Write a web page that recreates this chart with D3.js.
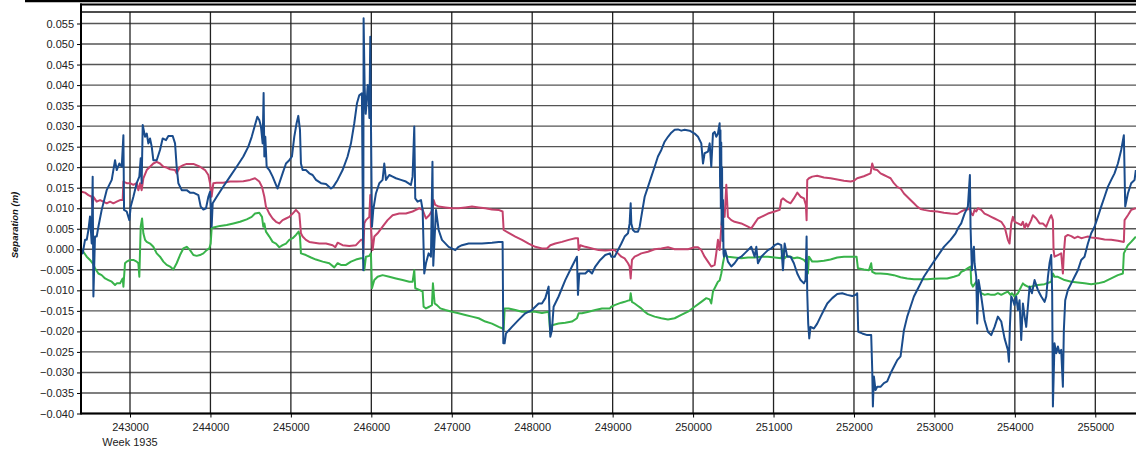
<!DOCTYPE html>
<html><head><meta charset="utf-8">
<script src="https://cdn.jsdelivr.net/npm/d3@7"></script>
<style>html,body{margin:0;padding:0;background:#fff;overflow:hidden}svg{display:block}</style>
</head><body>
<script>
const yTicks = [0.055,0.050,0.045,0.040,0.035,0.030,0.025,0.020,0.015,0.010,0.005,0.000,-0.005,-0.010,-0.015,-0.020,-0.025,-0.030,-0.035,-0.040];
const xTicks = [243000,244000,245000,246000,247000,248000,249000,250000,251000,252000,253000,254000,255000];
const xSubLabel = "Week 1935";
const yTitle = "Separation (m)";

const blueData = [
[242400,-0.0002],[242412,-0.0010],[242441,0.0023],[242462,0.0023],[242483,0.0047],[242503,0.0080],[242524,0.0014],[242536,0.0177],[242545,-0.0115],[242565,0.0031],[242586,0.0031],[242607,0.0055],[242648,0.0096],[242710,0.0144],[242773,0.0169],[242814,0.0217],[242835,0.0193],[242868,0.0209],[242897,0.0201],[242918,0.0278],[242926,0.0096],[242959,0.0092],[242992,0.0071],[243009,0.0104],[243042,0.0128],[243083,0.0161],[243116,0.0177],[243133,0.0222],[243145,0.0161],[243158,0.0303],[243187,0.0274],[243208,0.0282],[243228,0.0258],[243249,0.0270],[243270,0.0250],[243290,0.0217],[243332,0.0217],[243373,0.0242],[243406,0.0270],[243448,0.0266],[243477,0.0276],[243531,0.0276],[243560,0.0258],[243580,0.0201],[243601,0.0161],[243643,0.0144],[243705,0.0144],[243746,0.0138],[243788,0.0138],[243850,0.0132],[243879,0.0104],[243912,0.0097],[243945,0.0100],[243974,0.0128],[243995,0.0140],[244007,0.0096],[244015,0.0055],[244028,0.0112],[244078,0.0128],[244160,0.0153],[244243,0.0177],[244326,0.0201],[244409,0.0226],[244471,0.0250],[244513,0.0274],[244554,0.0303],[244583,0.0323],
[244607,0.0315],[244628,0.0299],[244649,0.0258],[244661,0.0381],[244670,0.0226],[244682,0.0274],[244699,0.0201],[244732,0.0193],[244773,0.0177],[244815,0.0157],[244835,0.0148],[244856,0.0161],[244897,0.0185],[244939,0.0209],[244980,0.0217],[245013,0.0226],[245042,0.0274],[245071,0.0307],[245092,0.0325],[245113,0.0291],[245125,0.0209],[245146,0.0193],[245187,0.0193],[245229,0.0185],[245270,0.0181],[245312,0.0169],[245374,0.0161],[245436,0.0159],[245498,0.0148],[245527,0.0152],[245581,0.0169],[245643,0.0193],[245705,0.0226],[245747,0.0258],[245788,0.0307],[245821,0.0355],[245850,0.0375],[245883,0.0380],[245900,-0.0051],[245904,0.0563],[245917,0.0396],[245930,0.0330],[245941,0.0355],[245955,0.0400],[245966,0.0380],[245976,0.0320],[245987,0.0518],[245995,0.0315],[246008,0.0055],[246024,0.0096],[246057,0.0136],[246099,0.0161],[246140,0.0169],[246161,0.0209],[246182,0.0169],[246223,0.0181],[246265,0.0177],[246306,0.0173],[246368,0.0169],[246430,0.0165],[246492,0.0157],[246513,0.0177],[246534,0.0299],[246546,0.0124],[246575,0.0116],[246617,0.0120],[246638,0.0096],[246658,-0.0059],[246679,-0.0034],[246712,-0.0010],[246741,-0.0018],[246760,0.0213],[246770,-0.0040],
[246804,0.0096],[246837,0.0047],[246878,0.0023],[246961,0.0006],[247044,-0.0002],[247085,0.0006],[247127,0.0010],[247210,0.0014],[247375,0.0014],[247500,0.0016],[247583,0.0018],[247632,0.0018],[247641,-0.0229],[247657,-0.0229],[247674,-0.0205],[247748,-0.0189],[247831,-0.0172],[247914,-0.0156],[247997,-0.0148],[248080,-0.0132],[248121,-0.0132],[248163,-0.0119],[248204,-0.0091],[248225,-0.0213],[248245,-0.0197],[248266,-0.0140],[248328,-0.0115],[248411,-0.0075],[248494,-0.0042],[248556,-0.0018],[248569,-0.0111],[248585,-0.0059],[248618,-0.0059],[248660,-0.0059],[248701,-0.0051],[248743,-0.0059],[248784,-0.0042],[248846,-0.0026],[248908,-0.0014],[248966,-0.0010],
[248983,-0.0018],[249025,-0.0018],[249066,-0.0002],[249108,0.0014],[249149,0.0031],[249191,0.0039],[249211,0.0063],[249224,0.0112],[249232,0.0063],[249253,0.0047],[249273,0.0043],[249315,0.0043],[249336,0.0055],[249356,0.0079],[249398,0.0128],[249439,0.0152],[249481,0.0177],[249522,0.0201],[249563,0.0226],[249605,0.0242],[249646,0.0262],[249688,0.0274],[249729,0.0284],[249771,0.0291],[249812,0.0292],[249853,0.0289],[249895,0.0291],[249957,0.0289],[250019,0.0282],[250061,0.0274],[250102,0.0258],[250123,0.0209],[250143,0.0234],[250185,0.0238],[250206,0.0258],[250226,0.0201],[250247,0.0282],[250268,0.0286],[250288,0.0274],[250309,0.0282],[250330,0.0307],[250336,0.0150],[250340,0.0290],[250345,0.0100],[250350,0.0260],[250355,0.0060],[250360,0.0200],[250366,0.0020],[250372,0.0120],[250378,-0.0010],[250384,-0.0018],[250400,-0.0002],[250433,-0.0030],[250475,-0.0042],[250516,-0.0034],[250558,-0.0022],[250599,-0.0018],[250641,-0.0010],[250682,-0.0002],[250723,0.0006],[250765,-0.0018],[250786,0.0006],[250806,-0.0034],[250848,-0.0018],[250889,-0.0010],[250931,-0.0002],[250972,0.0002],[251014,0.0010],[251055,0.0014],[251096,0.0010],[251117,-0.0051],[251138,0.0014],
[251170,-0.0018],[251212,-0.0018],[251253,-0.0034],[251295,-0.0059],[251336,-0.0075],[251378,-0.0083],[251398,-0.0075],[251411,0.0031],[251419,-0.0107],[251431,-0.0181],[251444,-0.0217],[251460,-0.0189],[251502,-0.0193],[251543,-0.0181],[251585,-0.0164],[251626,-0.0148],[251668,-0.0132],[251730,-0.0119],[251792,-0.0109],[251854,-0.0107],[251916,-0.0111],[251978,-0.0114],[252020,-0.0111],[252040,-0.0107],[252053,-0.0201],[252103,-0.0205],[252165,-0.0209],[252214,-0.0209],[252227,-0.0294],[252235,-0.0383],[252248,-0.0310],[252268,-0.0343],[252289,-0.0335],[252330,-0.0335],[252372,-0.0326],[252413,-0.0322],[252455,-0.0302],[252496,-0.0286],[252538,-0.0270],[252579,-0.0261],[252600,-0.0229],[252621,-0.0197],[252662,-0.0164],[252703,-0.0140],[252745,-0.0115],[252786,-0.0099],[252828,-0.0083],[252869,-0.0067],[252952,-0.0042],[253035,-0.0018],[253118,0.0006],[253201,0.0023],[253263,0.0039],[253304,0.0055],
[253333,0.0063],[253375,0.0087],[253416,0.0104],[253441,0.0181],[253449,0.0055],[253466,-0.0051],[253478,-0.0010],[253491,0.0006],[253499,-0.0034],[253520,-0.0067],[253532,-0.0181],[253549,-0.0075],[253582,-0.0115],[253623,-0.0172],[253665,-0.0201],[253706,-0.0209],[253748,-0.0189],[253789,-0.0164],[253831,-0.0176],[253872,-0.0217],[253913,-0.0245],[253926,-0.0274],[253938,-0.0189],[253955,-0.0115],[253976,-0.0124],[253996,-0.0136],[254017,-0.0115],[254038,-0.0148],[254058,-0.0124],[254079,-0.0221],[254100,-0.0132],[254121,-0.0164],[254141,-0.0189],[254162,-0.0140],[254183,-0.0091],[254212,-0.0107],[254245,-0.0075],[254286,-0.0099],[254328,-0.0115],[254369,-0.0128],[254390,-0.0115],[254411,-0.0067],[254431,-0.0034],[254452,-0.0014],[254464,-0.0107],[254473,-0.0383],[254493,-0.0229],[254514,-0.0253],[254535,-0.0237],[254556,-0.0253],[254576,-0.0245],[254597,-0.0335],[254609,-0.0197],[254626,-0.0124],[254659,-0.0099],[254701,-0.0083],[254742,-0.0067],[254783,-0.0051],[254825,-0.0026],[254866,-0.0018],[254908,0.0014],[254949,0.0039],[254991,0.0055],[255032,0.0079],[255073,0.0104],[255115,0.0128],[255156,0.0152],[255198,0.0169],[255239,0.0185],[255281,0.0209],[255322,0.0242],[255355,0.0278],[255372,0.0104],[255405,0.0136],[255446,0.0161],[255488,0.0169],[255504,0.0193]
];

const redData = [
[242400,0.0140],[242441,0.0138],[242483,0.0132],[242524,0.0128],[242536,0.0100],[242545,0.0128],[242586,0.0116],[242628,0.0120],[242669,0.0116],[242710,0.0112],[242752,0.0116],[242793,0.0112],[242835,0.0116],[242876,0.0120],[242909,0.0120],[242918,0.0165],[242959,0.0161],[243000,0.0161],[243042,0.0157],[243083,0.0161],[243104,0.0144],[243125,0.0161],[243145,0.0144],[243166,0.0173],[243208,0.0193],[243249,0.0201],[243290,0.0209],[243332,0.0213],[243373,0.0209],[243415,0.0201],[243456,0.0199],[243498,0.0195],[243560,0.0193],[243580,0.0185],[243622,0.0201],[243663,0.0205],[243705,0.0208],[243788,0.0208],[243870,0.0201],[243933,0.0193],[243974,0.0181],[243995,0.0161],[244015,0.0128],[244036,0.0161],[244078,0.0162],[244160,0.0162],[244243,0.0165],[244326,0.0165],[244409,0.0166],[244492,0.0169],[244554,0.0173],
[244607,0.0165],[244641,0.0152],[244670,0.0128],[244690,0.0104],[244732,0.0087],[244773,0.0075],[244815,0.0067],[244856,0.0063],[244897,0.0071],[244939,0.0075],[244980,0.0079],[245022,0.0087],[245063,0.0096],[245105,0.0087],[245125,0.0039],[245146,0.0031],[245187,0.0023],[245229,0.0018],[245291,0.0016],[245353,0.0014],[245436,0.0014],[245519,0.0010],[245552,0.0005],[245581,0.0016],[245643,0.0010],[245726,0.0008],[245809,0.0010],[245871,0.0023],[245892,0.0023],[245900,-0.0010],[245913,0.0063],[245933,0.0071],[245975,0.0079],[245987,0.0132],[245995,0.0055],[246016,-0.0002],[246037,0.0031],[246078,0.0039],[246140,0.0055],[246202,0.0071],[246265,0.0083],[246347,0.0087],[246430,0.0087],[246513,0.0092],[246555,0.0096],[246596,0.0100],[246638,0.0096],[246679,0.0075],[246720,0.0083],[246762,0.0096],
[246775,0.0120],[246795,0.0108],[246837,0.0104],[246920,0.0102],[247003,0.0100],[247085,0.0100],[247168,0.0102],[247251,0.0104],[247334,0.0102],[247417,0.0100],[247500,0.0097],[247583,0.0096],[247632,0.0092],[247645,0.0047],[247707,0.0040],[247790,0.0031],[247873,0.0023],[247955,0.0014],[248038,0.0006],[248121,0.0002],[248183,0.0002],[248225,0.0010],[248287,0.0014],[248370,0.0018],[248453,0.0023],[248536,0.0027],[248569,0.0027],[248577,-0.0002],[248598,0.0010],[248660,0.0006],[248743,0.0002],[248826,-0.0002],[248908,-0.0003],
[248983,-0.0002],[249025,-0.0002],[249066,-0.0010],[249108,-0.0018],[249149,-0.0022],[249191,-0.0034],[249211,-0.0042],[249224,-0.0071],[249240,-0.0026],[249273,-0.0018],[249315,-0.0014],[249356,-0.0010],[249439,-0.0006],[249522,0.0000],[249605,0.0002],[249688,0.0005],[249771,0.0000],[249853,0.0000],[249936,0.0000],[250019,0.0005],[250061,0.0005],[250102,-0.0002],[250143,-0.0018],[250185,-0.0030],[250226,-0.0042],[250268,-0.0038],[250288,-0.0010],[250309,0.0023],[250330,-0.0002],[250351,0.0055],[250371,0.0096],[250392,0.0079],[250413,0.0157],[250433,0.0079],[250475,0.0071],[250516,0.0067],[250599,0.0063],[250682,0.0055],[250723,0.0051],[250765,0.0063],[250806,0.0075],[250848,0.0079],[250931,0.0087],[251014,0.0092],[251076,0.0096],[251096,0.0120],[251117,0.0124],
[251170,0.0116],[251212,0.0112],[251253,0.0124],[251295,0.0138],[251336,0.0128],[251378,0.0124],[251402,0.0108],[251411,0.0071],[251419,0.0169],[251440,0.0173],[251481,0.0177],[251543,0.0179],[251626,0.0175],[251709,0.0173],[251792,0.0170],[251875,0.0167],[251958,0.0165],[252000,0.0167],[252040,0.0173],[252123,0.0178],[252206,0.0185],[252227,0.0209],[252248,0.0195],[252289,0.0193],[252330,0.0185],[252372,0.0181],[252413,0.0177],[252455,0.0173],[252496,0.0161],[252538,0.0152],[252579,0.0148],[252621,0.0136],[252662,0.0128],[252703,0.0120],[252745,0.0112],[252786,0.0104],[252828,0.0098],[252869,0.0096],[252952,0.0093],[253035,0.0092],[253118,0.0089],[253201,0.0087],[253283,0.0086],
[253333,0.0092],[253375,0.0096],[253416,0.0097],[253441,0.0100],[253458,0.0087],[253478,0.0083],[253499,0.0096],[253520,0.0092],[253541,0.0100],[253582,0.0096],[253623,0.0087],[253665,0.0083],[253706,0.0079],[253748,0.0075],[253789,0.0071],[253831,0.0067],[253872,0.0055],[253913,0.0023],[253934,0.0014],[253955,0.0063],[253976,0.0079],[253996,0.0067],[254038,0.0063],[254079,0.0059],[254100,0.0067],[254121,0.0051],[254141,0.0063],[254162,0.0055],[254183,0.0063],[254203,0.0071],[254224,0.0083],[254266,0.0075],[254307,0.0063],[254348,0.0063],[254390,0.0055],[254431,0.0075],[254452,0.0083],[254473,0.0071],[254481,-0.0002],[254493,-0.0018],[254535,-0.0014],[254576,-0.0010],[254597,-0.0059],[254609,-0.0010],[254626,0.0031],[254659,0.0035],[254701,0.0032],[254742,0.0027],[254783,0.0031],[254825,0.0027],[254866,0.0029],[254908,0.0031],[254949,0.0029],[255032,0.0027],[255115,0.0024],[255198,0.0023],[255281,0.0021],[255355,0.0018],[255364,0.0071],[255405,0.0083],[255446,0.0096],[255504,0.0100]
];

const greenData = [
[242400,-0.0002],[242420,-0.0006],[242462,-0.0018],[242503,-0.0026],[242536,-0.0034],[242565,-0.0046],[242607,-0.0059],[242648,-0.0063],[242690,-0.0071],[242731,-0.0075],[242773,-0.0079],[242814,-0.0087],[242835,-0.0083],[242876,-0.0083],[242909,-0.0071],[242918,-0.0091],[242938,-0.0034],[242959,-0.0030],[243000,-0.0026],[243042,-0.0026],[243083,-0.0030],[243104,-0.0034],[243116,-0.0067],[243133,0.0055],[243150,0.0075],[243166,0.0039],[243187,0.0023],[243208,0.0018],[243249,0.0014],[243290,0.0006],[243332,-0.0010],[243373,-0.0018],[243415,-0.0030],[243456,-0.0038],[243498,-0.0042],[243539,-0.0049],[243580,-0.0034],[243622,-0.0014],[243663,0.0002],[243705,0.0006],[243746,-0.0002],[243788,-0.0014],[243829,-0.0016],[243870,-0.0014],[243912,-0.0010],[243953,-0.0002],[243986,0.0002],[244003,0.0014],[244015,0.0051],[244036,0.0053],[244119,0.0057],[244202,0.0059],[244285,0.0063],[244368,0.0067],[244451,0.0073],[244513,0.0079],[244554,0.0087],
[244607,0.0089],[244641,0.0079],[244657,0.0055],[244670,0.0063],[244690,0.0043],[244732,0.0031],[244773,0.0018],[244815,0.0014],[244856,0.0005],[244897,0.0010],[244939,0.0014],[244980,0.0023],[245022,0.0027],[245063,0.0035],[245096,0.0043],[245113,0.0031],[245125,-0.0010],[245187,-0.0014],[245250,-0.0020],[245312,-0.0025],[245395,-0.0030],[245477,-0.0034],[245540,-0.0044],[245581,-0.0034],[245622,-0.0038],[245685,-0.0038],[245747,-0.0030],[245809,-0.0025],[245871,-0.0022],[245900,-0.0022],[245913,-0.0051],[245933,-0.0018],[245975,-0.0016],[245995,-0.0010],[246008,-0.0095],[246037,-0.0075],[246078,-0.0067],[246140,-0.0063],[246223,-0.0067],[246306,-0.0071],[246389,-0.0075],[246472,-0.0079],[246513,-0.0079],[246534,-0.0051],[246546,-0.0095],[246596,-0.0099],[246638,-0.0103],[246650,-0.0140],[246679,-0.0144],[246720,-0.0140],[246753,-0.0136],
[246766,-0.0083],[246787,-0.0132],[246816,-0.0136],[246858,-0.0144],[246920,-0.0148],[247003,-0.0152],[247085,-0.0156],[247168,-0.0160],[247251,-0.0164],[247334,-0.0168],[247417,-0.0176],[247500,-0.0181],[247583,-0.0189],[247632,-0.0193],[247645,-0.0197],[247657,-0.0144],[247707,-0.0144],[247790,-0.0148],[247873,-0.0152],[247955,-0.0152],[248038,-0.0152],[248121,-0.0155],[248204,-0.0152],[248225,-0.0205],[248245,-0.0185],[248328,-0.0181],[248411,-0.0179],[248494,-0.0176],[248556,-0.0168],[248577,-0.0156],[248618,-0.0156],[248701,-0.0152],[248784,-0.0148],[248867,-0.0144],[248966,-0.0144],
[248983,-0.0140],[249025,-0.0136],[249066,-0.0133],[249108,-0.0130],[249149,-0.0128],[249191,-0.0125],[249215,-0.0124],[249224,-0.0107],[249240,-0.0128],[249273,-0.0132],[249315,-0.0138],[249356,-0.0144],[249398,-0.0152],[249439,-0.0158],[249522,-0.0164],[249605,-0.0168],[249688,-0.0171],[249771,-0.0168],[249853,-0.0160],[249936,-0.0152],[250019,-0.0140],[250102,-0.0128],[250164,-0.0119],[250206,-0.0122],[250226,-0.0132],[250247,-0.0103],[250268,-0.0095],[250309,-0.0079],[250330,-0.0076],[250351,-0.0059],[250371,-0.0034],[250392,-0.0014],[250433,-0.0018],[250516,-0.0020],[250599,-0.0022],[250682,-0.0020],[250765,-0.0020],[250848,-0.0018],[250931,-0.0018],[251014,-0.0020],[251096,-0.0022],[251117,-0.0002],[251138,-0.0022],
[251170,-0.0016],[251212,-0.0018],[251253,-0.0022],[251295,-0.0020],[251336,-0.0022],[251378,-0.0026],[251411,-0.0034],[251427,-0.0059],[251440,-0.0018],[251481,-0.0030],[251543,-0.0030],[251626,-0.0028],[251709,-0.0025],[251792,-0.0020],[251875,-0.0018],[251958,-0.0018],[252032,-0.0018],[252049,-0.0046],[252123,-0.0049],[252185,-0.0051],[252214,-0.0034],[252227,-0.0055],[252268,-0.0059],[252330,-0.0059],[252413,-0.0060],[252496,-0.0063],[252579,-0.0068],[252662,-0.0071],[252745,-0.0073],[252828,-0.0073],[252910,-0.0073],[252993,-0.0072],[253076,-0.0071],[253159,-0.0071],[253242,-0.0067],[253304,-0.0063],
[253333,-0.0055],[253375,-0.0051],[253416,-0.0046],[253449,-0.0042],[253458,-0.0083],[253478,-0.0091],[253520,-0.0079],[253541,-0.0091],[253582,-0.0107],[253623,-0.0111],[253665,-0.0109],[253706,-0.0111],[253748,-0.0111],[253789,-0.0107],[253831,-0.0111],[253872,-0.0107],[253913,-0.0103],[253946,-0.0111],[253963,-0.0107],[253996,-0.0115],[254038,-0.0107],[254079,-0.0091],[254100,-0.0083],[254121,-0.0087],[254162,-0.0091],[254203,-0.0091],[254286,-0.0087],[254369,-0.0085],[254452,-0.0079],[254473,-0.0059],[254493,-0.0067],[254535,-0.0067],[254618,-0.0075],[254701,-0.0079],[254783,-0.0081],[254866,-0.0083],[254949,-0.0085],[255032,-0.0083],[255115,-0.0079],[255198,-0.0071],[255281,-0.0063],[255343,-0.0059],[255355,-0.0010],[255405,0.0010],[255446,0.0018],[255504,0.0031]
];

const seriesColors = {green:"#38b34a", red:"#c4426c", blue:"#1a4c8c"};

const W = 1136, H = 453;
const L = 81, T = 12, B = 413.5, R = 1136;
const svg = d3.select("body").append("svg").attr("width", W).attr("height", H)
  .style("font-family", "Arial, 'Liberation Sans', sans-serif");

const x = d3.scaleLinear().domain([243000, 255000]).range([130, 1095.3]);
const y = d3.scaleLinear().domain([-0.040, 0.055]).range([413.5, 23.5]);

// horizontal gridlines
svg.append("g").selectAll("line").data(yTicks).join("line")
  .attr("x1", L).attr("x2", R).attr("y1", d => y(d)).attr("y2", d => y(d))
  .attr("stroke", "#555").attr("stroke-width", 1.4);
// vertical gridlines
svg.append("g").selectAll("line").data(xTicks).join("line")
  .attr("x1", d => x(d)).attr("x2", d => x(d)).attr("y1", T).attr("y2", B)
  .attr("stroke", "#222").attr("stroke-width", 1.3);

// lines
svg.append("clipPath").attr("id", "clip").append("rect")
  .attr("x", L + 1).attr("y", T).attr("width", R - L).attr("height", B - T);
const line = d3.line().x(d => x(d[0])).y(d => y(d[1]));
const g = svg.append("g").attr("clip-path", "url(#clip)");
[[greenData, seriesColors.green], [redData, seriesColors.red], [blueData, seriesColors.blue]].forEach(([data, c]) => {
  g.append("path").datum(data).attr("d", line).attr("fill", "none")
    .attr("stroke", c).attr("stroke-width", 2).attr("stroke-linejoin", "round");
});

// frame lines
svg.append("line").attr("x1", 25).attr("x2", W).attr("y1", 1).attr("y2", 1).attr("stroke", "#000").attr("stroke-width", 2.5);
svg.append("line").attr("x1", L - 1).attr("x2", W).attr("y1", 4.5).attr("y2", 4.5).attr("stroke", "#000").attr("stroke-width", 2);
svg.append("line").attr("x1", L).attr("x2", W).attr("y1", T).attr("y2", T).attr("stroke", "#111").attr("stroke-width", 1.5);

// axes
const yAxis = d3.axisLeft(y).tickValues(yTicks).tickFormat(d3.format(".3f")).tickSize(4).tickPadding(3);
const ya = svg.append("g").attr("transform", `translate(${L},0)`).call(yAxis);
ya.select(".domain").remove();
svg.append("line").attr("x1", L).attr("x2", L).attr("y1", 3.5).attr("y2", B + 1).attr("stroke", "#000").attr("stroke-width", 2);
ya.selectAll("text").attr("font-size", 11).attr("fill", "#222").attr("font-family", "Arial, 'Liberation Sans', sans-serif");
ya.selectAll(".tick line").attr("stroke", "#000");

const xAxis = d3.axisBottom(x).tickValues(xTicks).tickFormat(d3.format("d")).tickSize(4).tickPadding(6);
const xa = svg.append("g").attr("transform", `translate(0,${B})`).call(xAxis);
xa.select(".domain").remove();
svg.append("line").attr("x1", L).attr("x2", W).attr("y1", B).attr("y2", B).attr("stroke", "#000").attr("stroke-width", 2);
xa.selectAll("text").attr("font-size", 11).attr("fill", "#222").attr("font-family", "Arial, 'Liberation Sans', sans-serif");
xa.selectAll(".tick line").attr("stroke", "#000");

svg.append("text").attr("x", x(xTicks[0])).attr("y", 446).attr("text-anchor", "middle")
  .attr("font-size", 11).attr("fill", "#222").text(xSubLabel);

svg.append("text").attr("transform", "translate(18,225) rotate(-90)").attr("text-anchor", "middle")
  .attr("font-size", 9.5).attr("font-weight", "bold").attr("font-style", "italic").attr("fill", "#111").text(yTitle);
</script>
</body></html>
